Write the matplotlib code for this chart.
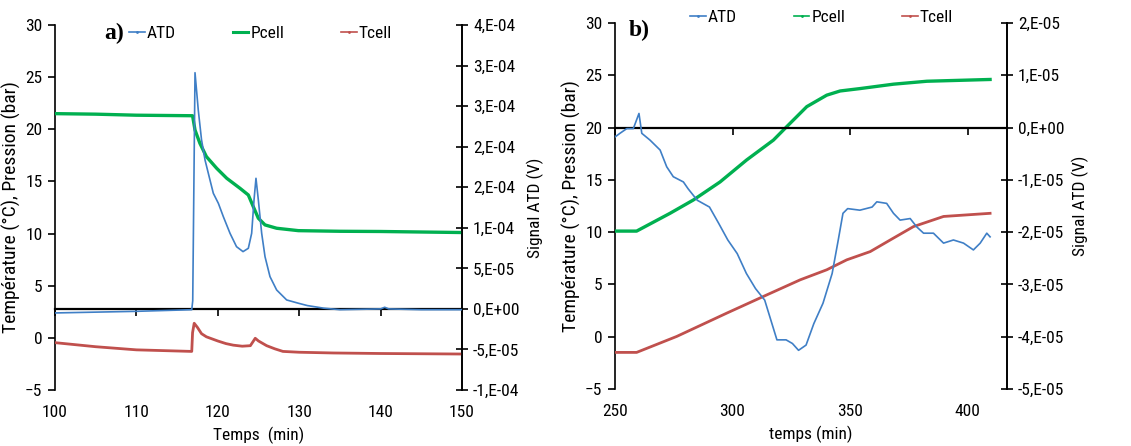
import matplotlib
matplotlib.use("Agg")
import matplotlib.pyplot as plt
from matplotlib.lines import Line2D

plt.rcParams['font.family'] = ['Roboto Condensed', 'Liberation Sans', 'DejaVu Sans']

# ---- panel a data (time in min) ----
a_atd_t = [100, 105, 110, 116.8, 116.92, 117.2, 117.6, 118.0, 118.43, 119.04, 119.45, 120.07,
           120.68, 121.5, 122.3, 123.1, 123.75, 124.16, 124.45, 124.69, 124.98, 125.39,
           125.8, 126.41, 127.23, 128.46, 129.89, 131, 133, 135, 140, 140.5, 141, 145, 150]
a_atd_v = [-5e-6, -4e-6, -3e-6, -1e-6, 1.0e-5, 2.912e-4, 2.452e-4, 2.086e-4, 1.836e-4,
           1.589e-4, 1.425e-4, 1.301e-4, 1.137e-4, 0.932e-4, 0.767e-4, 0.706e-4, 0.747e-4,
           0.932e-4, 1.343e-4, 1.610e-4, 1.343e-4, 0.932e-4, 0.644e-4, 0.398e-4, 0.233e-4,
           0.110e-4, 0.070e-4, 0.041e-4, 0.009e-4, -1e-6, 0, 2e-6, 0, -1e-6, -1e-6]

a_p_t = [100, 105, 110, 116.9, 117.2, 117.8, 118.6, 119.86, 121.1, 122.73, 123.75, 124.36,
         124.98, 125.8, 127.23, 129.9, 135, 140, 150]
a_p_v = [21.5, 21.45, 21.35, 21.3, 19.93, 18.66, 17.38, 16.26, 15.3, 14.34, 13.7, 12.58,
         11.47, 10.83, 10.51, 10.28, 10.22, 10.2, 10.1]

a_t_t = [100, 105, 110, 116.8, 116.9, 117.1, 117.5, 118, 118.6, 120, 121, 121.9, 123, 124,
         124.6, 125, 126, 127, 128, 130, 134.2, 140, 150]
a_t_v = [-0.46, -0.85, -1.15, -1.3, 0.5, 1.4, 1.0, 0.4, 0.1, -0.3, -0.55, -0.7, -0.8, -0.75,
         -0.04, -0.3, -0.75, -1.05, -1.3, -1.38, -1.45, -1.5, -1.55]

# ---- panel b data ----
b_atd_t = [250, 252.1, 255, 257.8, 260.2, 261.4, 264.9, 269.2, 272, 274.8, 279.1, 281.1,
           285, 290.2, 294.1, 298, 302, 305.9, 309.8, 313.7, 316.3, 318.9, 322.8, 325.5,
           328.1, 331.3, 334.6, 338.5, 342.4, 345, 347, 349, 354.2, 359.4, 361.4, 365.6,
           368.5, 371.3, 375.6, 378.4, 381.3, 385.5, 389.8, 394, 398.3, 402.5, 405.4, 408.2,
           409.6]
b_atd_v = [-1.8e-6, -1.1e-6, -0.2e-6, -0.2e-6, 2.7e-6, -1.1e-6, -2.4e-6, -4.3e-6, -7.5e-6,
           -9.4e-6, -1.04e-5, -1.17e-5, -1.39e-5, -1.52e-5, -1.83e-5, -2.15e-5, -2.41e-5,
           -2.79e-5, -3.08e-5, -3.30e-5, -3.68e-5, -4.06e-5, -4.06e-5, -4.13e-5, -4.26e-5,
           -4.16e-5, -3.75e-5, -3.36e-5, -2.79e-5, -2.15e-5, -1.64e-5, -1.55e-5, -1.58e-5,
           -1.52e-5, -1.42e-5, -1.45e-5, -1.64e-5, -1.77e-5, -1.74e-5, -1.90e-5, -2.02e-5,
           -2.02e-5, -2.21e-5, -2.15e-5, -2.21e-5, -2.34e-5, -2.21e-5, -2.02e-5, -2.09e-5]

b_p_t = [250, 259.2, 273.4, 283.3, 294.7, 306, 317.4, 323, 331.6, 340.1, 345.8, 354.3,
         368.5, 382.7, 409.6]
b_p_v = [10.1, 10.1, 11.8, 13.07, 14.8, 16.9, 18.8, 20.07, 22.0, 23.1, 23.5, 23.73,
         24.15, 24.43, 24.6]

b_t_t = [250, 259.2, 276.3, 297.5, 314.6, 328.8, 340.1, 348.6, 358.6, 367.1, 377, 389.8, 409.6]
b_t_v = [-1.5, -1.5, 0.03, 2.25, 4.0, 5.44, 6.4, 7.35, 8.14, 9.25, 10.53, 11.5, 11.8]

# right axis tick labels (Excel rounding)
a_rticks = [-1e-4, -5e-5, 0, 5e-5, 1e-4, 1.5e-4, 2e-4, 2.5e-4, 3e-4, 3.5e-4]
a_rlabels = ["-1,E-04", "-5,E-05", "0,E+00", "5,E-05", "1,E-04", "2,E-04", "2,E-04",
             "3,E-04", "3,E-04", "4,E-04"]
b_rticks = [-5e-5, -4e-5, -3e-5, -2e-5, -1e-5, 0, 1e-5, 2e-5]
b_rlabels = ["-5,E-05", "-4,E-05", "-3,E-05", "-2,E-05", "-1,E-05", "0,E+00", "1,E-05", "2,E-05"]

C_ATD = '#3f7fc6'
C_P = '#00b050'
C_T = '#c0504d'
FS = 12.5

fig = plt.figure(figsize=(11.31, 4.46), dpi=100)


def panel(rect, xlim, xticks, xlabel, rlim, rticks, rlabels, atd, pc, tc, tag, tagpos,
          legpos, p_handle_lw):
    ax = fig.add_axes(rect)
    ax2 = ax.twinx()
    ax.plot(pc[0], pc[1], color=C_P, lw=2.4, zorder=3)
    ax.plot(tc[0], tc[1], color=C_T, lw=2.0, zorder=3)
    ax2.plot(atd[0], atd[1], color=C_ATD, lw=1.2, zorder=3)
    ax.set_xlim(*xlim)
    ax.set_ylim(-5, 30)
    ax2.set_ylim(*rlim)
    ax.set_xticks(xticks)
    ax.set_yticks(range(-5, 31, 5))
    ax2.set_yticks(rticks)
    ax2.set_yticklabels(rlabels)
    for s in ['top', 'bottom']:
        ax.spines[s].set_visible(False)
    ax2.spines['top'].set_visible(False)
    ax2.spines['left'].set_visible(False)
    for a in (ax, ax2):
        for s in a.spines.values():
            s.set_linewidth(1.2)
    ax.tick_params(axis='x', length=0, pad=11, labelsize=FS)
    ax.tick_params(axis='y', direction='out', length=5, width=1.2, pad=4, labelsize=FS)
    ax2.tick_params(axis='y', direction='inout', length=8, width=1.2, pad=4, labelsize=FS)
    # horizontal axis line sits at zero of the ATD axis
    ax2.xaxis.set_visible(True)
    ax2.spines['bottom'].set_position(('data', 0))
    ax2.spines['bottom'].set_linewidth(1.6)
    ax2.tick_params(axis='x', direction='out', length=5, width=1.2, labelbottom=False,
                    bottom=True, top=False)
    ax.set_xlabel(xlabel, fontsize=FS, labelpad=5)
    ax.set_ylabel("Température (°C), Pression (bar)", fontsize=14, labelpad=3)
    ax2.set_ylabel("Signal ATD (V)", fontsize=FS, labelpad=5)
    fig.text(tagpos[0], tagpos[1], tag, family='Liberation Serif', weight='bold',
             fontsize=17, va='center', ha='left')
    handles = [Line2D([], [], color=C_ATD, lw=1.2, marker='.', ms=2),
               Line2D([], [], color=C_P, lw=p_handle_lw, marker='.', ms=2),
               Line2D([], [], color=C_T, lw=1.2, marker='.', ms=2)]
    fig.legend(handles, ["ATD", "Pcell", "Tcell"], loc='center left', bbox_to_anchor=legpos,
               ncol=3, frameon=False, fontsize=FS, handlelength=0.9, handletextpad=0.1,
               columnspacing=3.3, borderpad=0, borderaxespad=0)
    return ax, ax2


panel([55 / 1131, 56 / 446, 407 / 1131, 365 / 446], (100, 150), [100, 110, 120, 130, 140, 150],
      "Temps  (min)", (-1e-4, 3.5e-4), a_rticks, a_rlabels,
      (a_atd_t, a_atd_v), (a_p_t, a_p_v), (a_t_t, a_t_v),
      "a)", (104 / 1131, 1 - 33 / 446), (129 / 1131, 1 - 33 / 446), 2.2)

panel([615 / 1131, 57 / 446, 392 / 1131, 366 / 446], (250, 416.8), [250, 300, 350, 400],
      "temps (min)", (-5e-5, 2e-5), b_rticks, b_rlabels,
      (b_atd_t, b_atd_v), (b_p_t, b_p_v), (b_t_t, b_t_v),
      "b)", (629 / 1131, 1 - 30 / 446), (690 / 1131, 1 - 17 / 446), 1.2)

fig.savefig("out.png", dpi=100)
